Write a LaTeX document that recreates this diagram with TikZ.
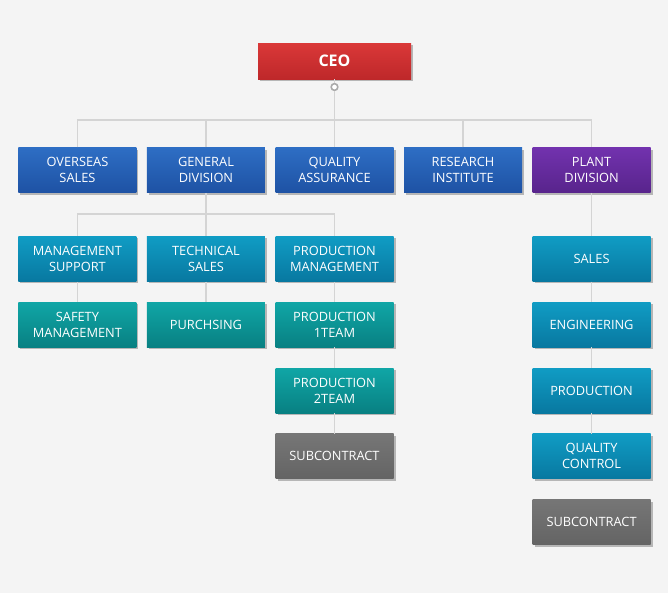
\documentclass[tikz,border=0pt]{standalone}
\usepackage{xcolor}
\usepackage{fontspec}
\usepackage{tikz}
\usetikzlibrary{positioning, shadows, calc}
\newfontfamily\orgfont{Open Sans}
\definecolor{orgbg}{RGB}{244, 244, 244}
\definecolor{orgline}{RGB}{212, 212, 212}
\definecolor{ceotop}{RGB}{218, 56, 56}
\definecolor{ceobot}{RGB}{190, 40, 42}
\definecolor{divtop}{RGB}{46, 110, 196}
\definecolor{divbot}{RGB}{30, 82, 164}
\definecolor{plttop}{RGB}{114, 50, 174}
\definecolor{pltbot}{RGB}{88, 36, 140}
\definecolor{deptop}{RGB}{16, 156, 196}
\definecolor{depbot}{RGB}{8, 120, 160}
\definecolor{teamtop}{RGB}{16, 166, 166}
\definecolor{teambot}{RGB}{8, 128, 130}
\definecolor{subtop}{RGB}{118, 118, 118}
\definecolor{subbot}{RGB}{100, 100, 100}

\begin{document}
\begin{tikzpicture}[
  x=0.75pt, y=-0.75pt,
  node distance=15.2pt and 7.5pt,
  box/.style={rectangle, minimum width=88.5pt, minimum height=33.75pt, inner sep=0pt,
              align=center, text=white, font=\orgfont\fontsize{9.6}{12}\selectfont,
              drop shadow={shadow xshift=1.5pt, shadow yshift=-1.5pt, opacity=0.25, fill=black}},
  ceobox/.style={box, minimum width=114.75pt, minimum height=27pt, top color=ceotop, bottom color=ceobot,
                 font=\orgfont\bfseries\fontsize{12}{14}\selectfont},
  divbox/.style={box, top color=divtop, bottom color=divbot},
  pltbox/.style={box, top color=plttop, bottom color=pltbot},
  depbox/.style={box, top color=deptop, bottom color=depbot},
  teambox/.style={box, top color=teamtop, bottom color=teambot},
  subbox/.style={box, top color=subtop, bottom color=subbot},
  hubdot/.style={circle, draw=orgline!80!black, fill=white, line width=1.2pt, minimum size=5pt, inner sep=0pt},
  link/.style={draw=orgline, line width=0.9pt},
]
  \fill[orgbg] (0,0) rectangle (668,593);
  \useasboundingbox (0,0) rectangle (668,593);

  \node[ceobox] (ceo) at (334.5,61) {CEO};
  \node[hubdot] (hub) at (334.5,87) {};

  \node[divbox, below=51pt of ceo] (quality) {QUALITY\\ASSURANCE};
  \node[divbox, left=of quality] (general) {GENERAL\\DIVISION};
  \node[divbox, left=of general] (overseas) {OVERSEAS\\SALES};
  \node[divbox, right=of quality] (research) {RESEARCH\\INSTITUTE};
  \node[pltbox, right=of research] (plant) {PLANT\\DIVISION};

  \node[depbox, below=32.5pt of overseas] (mgmtsup) {MANAGEMENT\\SUPPORT};
  \node[depbox, below=32.5pt of general] (techsales) {TECHNICAL\\SALES};
  \node[depbox, below=32.5pt of quality] (prodmgmt) {PRODUCTION\\MANAGEMENT};
  \node[teambox, below=of mgmtsup] (safety) {SAFETY\\MANAGEMENT};
  \node[teambox, below=of techsales] (purchase) {PURCHSING};
  \node[teambox, below=of prodmgmt] (team1) {PRODUCTION\\1TEAM};
  \node[teambox, below=of team1] (team2) {PRODUCTION\\2TEAM};
  \node[subbox, below=of team2] (subgen) {SUBCONTRACT};

  \node[depbox, below=32.5pt of plant] (sales) {SALES};
  \node[depbox, below=of sales] (engineer) {ENGINEERING};
  \node[depbox, below=of engineer] (produce) {PRODUCTION};
  \node[depbox, below=of produce] (qcontrol) {QUALITY\\CONTROL};
  \node[subbox, below=of qcontrol] (subplant) {SUBCONTRACT};

  \coordinate (bus) at (334.5,120);
  \coordinate (genbus) at (206,214);

  \draw[link] (ceo) -- (hub);
  \draw[link] (hub) -- (quality);
  \draw[link] (overseas.north) |- (bus) -| (plant.north);
  \draw[link] (general.north) -- (general.north |- bus);
  \draw[link] (research.north) -- (research.north |- bus);

  \draw[link] (general) -- (techsales);
  \draw[link] (mgmtsup.north) |- (genbus) -| (prodmgmt.north);
  \draw[link] (mgmtsup) -- (safety);
  \draw[link] (techsales) -- (purchase);
  \draw[link] (prodmgmt) -- (team1);
  \draw[link] (team1) -- (team2);
  \draw[link] (team2) -- (subgen);

  \draw[link] (plant) -- (sales);
  \draw[link] (sales) -- (engineer);
  \draw[link] (engineer) -- (produce);
  \draw[link] (produce) -- (qcontrol);
\end{tikzpicture}
\end{document}
